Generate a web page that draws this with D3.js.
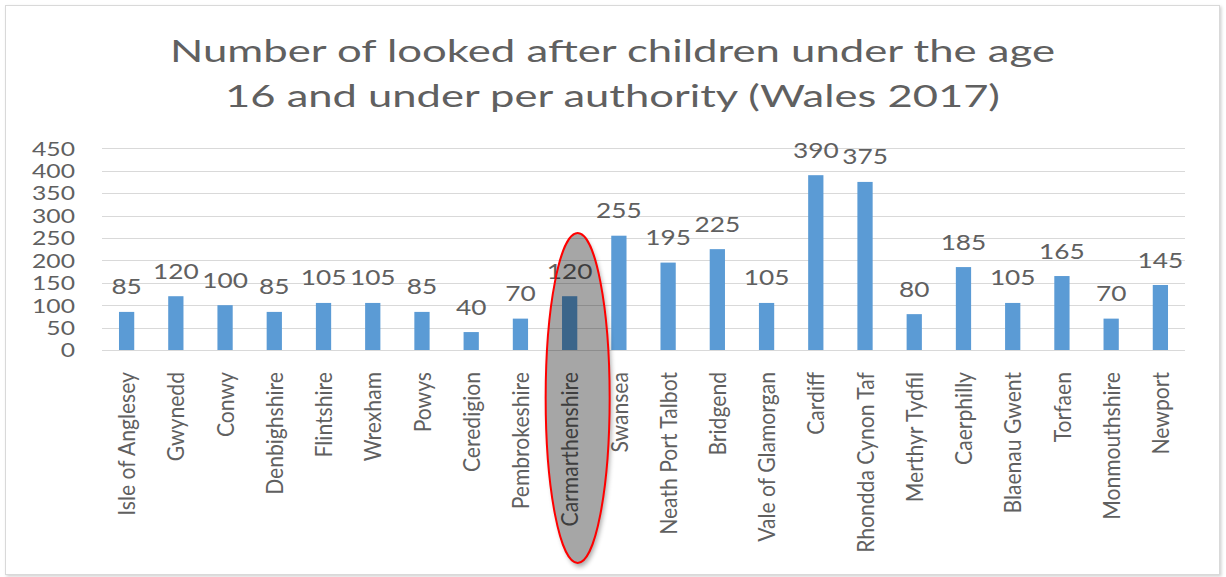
<!DOCTYPE html>
<html>
<head>
<meta charset="utf-8">
<script src="https://cdn.jsdelivr.net/npm/d3@7"></script>
<style>
  html, body { margin: 0; padding: 0; background: #ffffff; }
  svg { display: block; }
  text { font-family: Lato, "Open Sans", sans-serif; fill: #606060; }
</style>
</head>
<body>
<svg id="chart" width="1226" height="577"></svg>
<script>
// ---- data ----
const titleLines = [
  "Number of looked after children under the age",
  "16 and under per authority (Wales 2017)"
];
const categories = [
  "Isle of Anglesey", "Gwynedd", "Conwy", "Denbighshire", "Flintshire",
  "Wrexham", "Powys", "Ceredigion", "Pembrokeshire", "Carmarthenshire",
  "Swansea", "Neath Port Talbot", "Bridgend", "Vale of Glamorgan", "Cardiff",
  "Rhondda Cynon Taf", "Merthyr Tydfil", "Caerphilly", "Blaenau Gwent",
  "Torfaen", "Monmouthshire", "Newport"
];
const values = [85, 120, 100, 85, 105, 105, 85, 40, 70, 120, 255, 195, 225, 105, 390, 375, 80, 185, 105, 165, 70, 145];
const yTicks = [0, 50, 100, 150, 200, 250, 300, 350, 400, 450];
const highlighted = "Carmarthenshire";

// ---- layout ----
const svg = d3.select("#chart");
const plot = { left: 102, right: 1185, top: 148.3, bottom: 350 };

const x = d3.scaleBand()
  .domain(categories)
  .range([plot.left, plot.right])
  .paddingInner(0.69)
  .paddingOuter(0.345);

const y = d3.scaleLinear()
  .domain([0, 450])
  .range([plot.bottom, plot.top]);

const defs = svg.append("defs");
const blur = defs.append("filter").attr("id", "blur")
  .attr("x", "-30%").attr("y", "-10%").attr("width", "160%").attr("height", "120%");
blur.append("feGaussianBlur").attr("stdDeviation", 2.5);
const f2 = defs.append("filter").attr("id", "boxshadow")
  .attr("x", "-2%").attr("y", "-2%").attr("width", "104%").attr("height", "104%");
f2.append("feDropShadow").attr("dx", 1.5).attr("dy", 1.5).attr("stdDeviation", 1.5)
  .attr("flood-color", "#000").attr("flood-opacity", 0.18);

// chart frame
svg.append("rect")
  .attr("x", 5.5).attr("y", 5.5).attr("width", 1214).attr("height", 569)
  .attr("fill", "#ffffff").attr("stroke", "#d9d9d9").attr("stroke-width", 1)
  .attr("filter", "url(#boxshadow)");

// title
svg.selectAll("text.title").data(titleLines).join("text")
  .attr("class", "title")
  .attr("x", 612.5)
  .attr("y", (d, i) => 61.7 + i * 45)
  .attr("text-anchor", "middle")
  .attr("font-size", 30)
  .attr("fill", "#666666")
  .attr("textLength", (d, i) => i === 0 ? 885 : 775)
  .attr("lengthAdjust", "spacingAndGlyphs")
  .text(d => d);

// gridlines
svg.append("g").selectAll("line").data(yTicks).join("line")
  .attr("x1", plot.left).attr("x2", plot.right)
  .attr("y1", d => Math.round(y(d)) + 0.5).attr("y2", d => Math.round(y(d)) + 0.5)
  .attr("stroke", "#d9d9d9").attr("stroke-width", 1);

// y axis labels
const yAxis = svg.append("g")
  .attr("transform", `translate(75,0)`)
  .call(d3.axisLeft(y).tickValues(yTicks).tickSize(0).tickPadding(0));
yAxis.select(".domain").remove();
yAxis.selectAll(".tick text")
  .attr("font-family", null)
  .attr("font-size", 19)
  .attr("fill", "#666666")
  .attr("x", null).attr("dy", "0.36em")
  .attr("transform", "scale(1.3,1)")
  .attr("text-anchor", "end");

// bars
const barColor = "#5b9bd5";
svg.append("g").selectAll("rect").data(categories).join("rect")
  .attr("x", d => x(d))
  .attr("y", (d, i) => y(values[i]))
  .attr("width", x.bandwidth())
  .attr("height", (d, i) => y(0) - y(values[i]))
  .attr("fill", barColor);

// data labels
svg.append("g").selectAll("text").data(categories).join("text")
  .attr("transform", (d, i) => `translate(${x(d) + x.bandwidth() / 2},${y(values[i]) - 17.5}) scale(1.25,1)`)
  .attr("text-anchor", "middle")
  .attr("font-size", 21)
  .attr("fill", "#666666")
  .text((d, i) => values[i]);

// category labels (x axis)
const xAxis = svg.append("g")
  .attr("transform", `translate(0,${plot.bottom})`)
  .call(d3.axisBottom(x).tickSize(0).tickPadding(0));
xAxis.select(".domain").remove();
xAxis.selectAll(".tick text")
  .attr("font-family", null)
  .attr("font-size", 24)
  .attr("fill", "#606060")
  .attr("y", null)
  .attr("dy", "0.36em")
  .attr("text-anchor", "end")
  .attr("transform", "translate(0,22) scale(1,0.88) rotate(-90)");

// highlight ellipse with an outside-only shadow
const hc = x(highlighted) + x.bandwidth() / 2;
const ell = { cx: hc + 8, cy: 398, rx: 32, ry: 165 };
const mask = defs.append("mask").attr("id", "outside");
mask.append("rect").attr("x", 0).attr("y", 0).attr("width", 1226).attr("height", 577).attr("fill", "#fff");
mask.append("ellipse").attr("cx", ell.cx).attr("cy", ell.cy).attr("rx", ell.rx).attr("ry", ell.ry).attr("fill", "#000");
svg.append("g").attr("mask", "url(#outside)")
  .append("ellipse")
  .attr("cx", ell.cx + 2).attr("cy", ell.cy + 4).attr("rx", ell.rx).attr("ry", ell.ry)
  .attr("fill", "#000").attr("opacity", 0.35).attr("filter", "url(#blur)");
svg.append("ellipse")
  .attr("cx", ell.cx).attr("cy", ell.cy).attr("rx", ell.rx).attr("ry", ell.ry)
  .attr("fill", "rgba(0,0,0,0.35)")
  .attr("stroke", "#ff0000")
  .attr("stroke-width", 2);
</script>
</body>
</html>
